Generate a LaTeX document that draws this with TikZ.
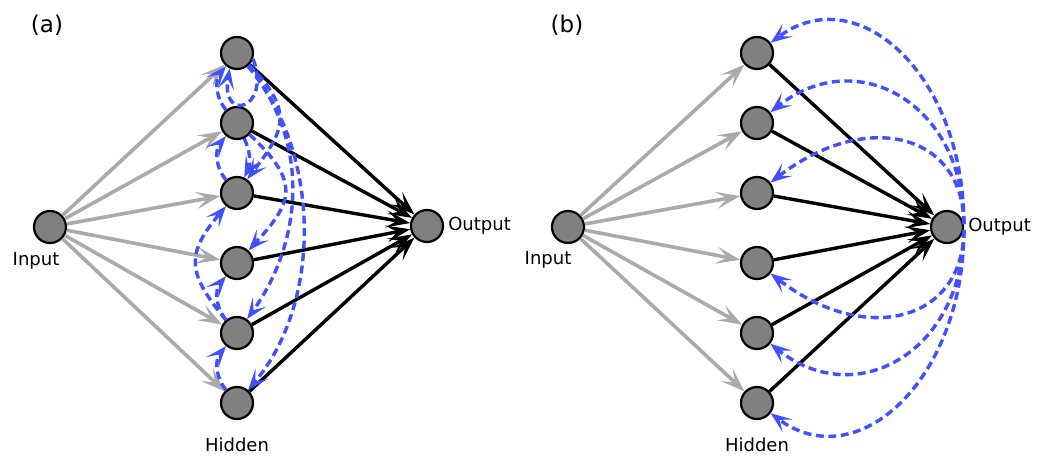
\documentclass[tikz,border=0pt]{standalone}
\usepackage{fontspec}
\setmainfont{DejaVu Sans}
\usetikzlibrary{arrows.meta,positioning}
\definecolor{ingray}{RGB}{170,170,170}
\definecolor{fbblue}{RGB}{64,80,255}
\tikzstyle{neuron} = [circle, draw=black, fill=gray, line width=2.2pt, minimum size=32pt, inner sep=0pt]
\tikzstyle{inarrow} = [draw=ingray, line width=3.6pt, -{Stealth[length=24pt, width=17pt, inset=11pt]}]
\tikzstyle{outarrow} = [draw=black, line width=3.4pt, -{Stealth[length=24pt, width=17pt, inset=11pt]}]
\tikzstyle{recur} = [draw=fbblue, line width=3.4pt, dash pattern=on 8pt off 4.5pt, -{Stealth[length=21pt, width=16pt, inset=10pt]}]
\tikzstyle{lbl} = [font=\fontsize{18}{22}\selectfont, inner sep=0pt]
\tikzstyle{tag} = [font=\fontsize{23}{28}\selectfont, inner sep=0pt]

\begin{document}
\begin{tikzpicture}[x=1pt, y=1pt, node distance=70pt]
\useasboundingbox (0,0) rectangle (1039,456);

% (a) recurrent hidden layer
\node (tag_a) [tag] at (47,431) {(a)};
\node (in_a) [neuron] at (50,229) {};
\node (a1) [neuron] at (237,403) {};
\node (a2) [neuron, below of=a1] {};
\node (a3) [neuron, below of=a2] {};
\node (a4) [neuron, below of=a3] {};
\node (a5) [neuron, below of=a4] {};
\node (a6) [neuron, below of=a5] {};
\node (out_a) [neuron] at (427,230) {};

\node (inlabel_a) [lbl, below of=in_a, node distance=34pt, xshift=-14pt] {Input};
\node (hidlabel_a) [lbl, below of=a6, node distance=42pt] {Hidden};
\node (outlabel_a) [lbl, anchor=west, xshift=4pt] at (out_a.east) {Output};

\draw [inarrow] (in_a) -- (a1);
\draw [inarrow] (in_a) -- (a2);
\draw [inarrow] (in_a) -- (a3);
\draw [inarrow] (in_a) -- (a4);
\draw [inarrow] (in_a) -- (a5);
\draw [inarrow] (in_a) -- (a6);

\draw [outarrow] (a1) -- (out_a);
\draw [outarrow] (a2) -- (out_a);
\draw [outarrow] (a3) -- (out_a);
\draw [outarrow] (a4) -- (out_a);
\draw [outarrow] (a5) -- (out_a);
\draw [outarrow] (a6) -- (out_a);

\draw [recur] (a1.-20) .. controls +(-70:55) and +(-100:55) .. (a1.-115);
\draw [recur] (a2) to [bend left=40] (a1);
\draw [recur] (a3) to [bend left=40] (a2);
\draw [recur] (a5) to [bend left=40] (a4);
\draw [recur] (a6) to [bend left=40] (a5);
\draw [recur] (a5) to [bend left=40, looseness=1.4] (a3);
\draw [recur] (a2) to [bend left=25] (a3);
\draw [recur] (a1) .. controls +(60,-60) and +(45,60) .. (a3);
\draw [recur] (a2) .. controls +(65,-60) and +(55,60) .. (a4);
\draw [recur] (a1) .. controls +(75,-90) and +(65,90) .. (a5);
\draw [recur] (a1) .. controls +(85,-100) and +(85,100) .. (a6);

% (b) feedback from the output
\node (tag_b) [tag] at (567,431) {(b)};
\node (in_b) [neuron] at (568,229) {};
\node (b1) [neuron] at (757,403) {};
\node (b2) [neuron, below of=b1] {};
\node (b3) [neuron, below of=b2] {};
\node (b4) [neuron, below of=b3] {};
\node (b5) [neuron, below of=b4] {};
\node (b6) [neuron, below of=b5] {};
\node (out_b) [neuron] at (947,229) {};

\node (inlabel_b) [lbl, below of=in_b, node distance=33pt, xshift=-20pt] {Input};
\node (hidlabel_b) [lbl, below of=b6, node distance=42pt] {Hidden};
\node (outlabel_b) [lbl, anchor=west, xshift=4pt] at (out_b.east) {Output};

\draw [inarrow] (in_b) -- (b1);
\draw [inarrow] (in_b) -- (b2);
\draw [inarrow] (in_b) -- (b3);
\draw [inarrow] (in_b) -- (b4);
\draw [inarrow] (in_b) -- (b5);
\draw [inarrow] (in_b) -- (b6);

\draw [outarrow] (b1) -- (out_b);
\draw [outarrow] (b2) -- (out_b);
\draw [outarrow] (b3) -- (out_b);
\draw [outarrow] (b4) -- (out_b);
\draw [outarrow] (b5) -- (out_b);
\draw [outarrow] (b6) -- (out_b);

\draw [recur] (out_b.10) .. controls +(0,150) and +(100,75) .. (b1);
\draw [recur] (out_b.10) .. controls +(0,120) and +(100,80) .. (b2);
\draw [recur] (out_b.10) .. controls +(0,90) and +(110,85) .. (b3);
\draw [recur] (out_b.-10) .. controls +(0,-90) and +(110,-85) .. (b4);
\draw [recur] (out_b.-10) .. controls +(0,-120) and +(100,-80) .. (b5);
\draw [recur] (out_b.-10) .. controls +(0,-150) and +(100,-75) .. (b6);

\end{tikzpicture}
\end{document}
